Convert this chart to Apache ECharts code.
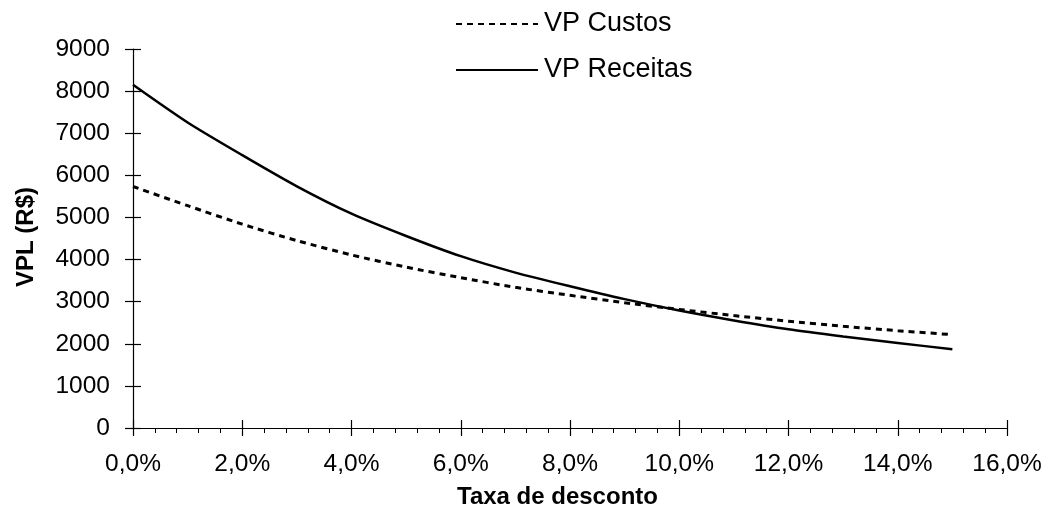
<!DOCTYPE html>
<html>
<head>
<meta charset="utf-8">
<script src="https://cdn.jsdelivr.net/npm/echarts@6/dist/echarts.min.js"></script>
<style>
html,body{margin:0;padding:0;background:#fff;}
#chart{width:1047px;height:524px;}
</style>
</head>
<body>
<div id="chart"></div>
<script>
// Data
const rates = [0, 0.01, 0.02, 0.03, 0.04, 0.05, 0.06, 0.07, 0.08, 0.09, 0.10, 0.11, 0.12, 0.13, 0.14, 0.15];
const vpCustos = [5735, 5280, 4840, 4450, 4110, 3820, 3570, 3340, 3150, 2975, 2815, 2670, 2535, 2415, 2310, 2217];
const vpReceitas = [8150, 7255, 6480, 5740, 5090, 4560, 4080, 3690, 3365, 3060, 2790, 2555, 2344, 2175, 2020, 1869];
const seriesNames = ['VP Custos', 'VP Receitas'];
const xTitle = 'Taxa de desconto';
const yTitle = 'VPL (R$)';

const FONT = 'Liberation Sans, Arial, sans-serif';
const toPairs = (xs, ys) => xs.map((x, i) => [x, ys[i]]);
const fmtPct = v => (v * 100).toFixed(1).replace('.', ',') + '%';

const chart = echarts.init(document.getElementById('chart'), null, {renderer: 'canvas'});
const TL = 8; // tick half-length
const tickStyle = {color: '#000', width: 1.2};
const hiddenAxis = {show: false};

const xBase = {type: 'value', min: 0, max: 0.16, interval: 0.02, splitLine: {show: false}};
const yBase = {type: 'value', min: 0, max: 9000, interval: 1000, splitLine: {show: false}};

chart.setOption({
  animation: false,
  backgroundColor: '#fff',
  textStyle: {fontFamily: FONT, color: '#000'},
  grid: [
    {left: 133, right: 40, top: 49, bottom: 96, containLabel: false},
    // helper grid: y ticks on inner side (same vertical scale, shifted right)
    {left: 133 + TL, right: 40, top: 49, bottom: 96, containLabel: false},
    // helper grid: x ticks on inner side (same horizontal scale, shifted up)
    {left: 133, right: 40, top: 49, bottom: 96 + TL, containLabel: false}
  ],
  legend: {
    orient: 'vertical',
    left: 455,
    top: 10,
    padding: 0,
    itemWidth: 82,
    itemHeight: 14,
    itemGap: 18,
    itemStyle: {opacity: 0},
    data: seriesNames,
    textStyle: {fontFamily: FONT, fontSize: 27, color: '#000', lineHeight: 28, padding: [0, 0, 0, 1]}
  },
  graphic: [{
    type: 'text', left: 457, top: 485,
    style: {text: xTitle, font: 'bold 24px ' + FONT, fill: '#000'}
  }, {
    type: 'text', x: 26.5, y: 237, rotation: Math.PI / 2,
    style: {text: yTitle, font: 'bold 24px ' + FONT, fill: '#000', align: 'center', verticalAlign: 'middle'}
  }],
  xAxis: [Object.assign({}, xBase, {
    gridIndex: 0, position: 'bottom',
    axisLine: {show: true, onZero: false, lineStyle: {color: '#000', width: 1.2}},
    axisTick: {show: true, inside: false, length: TL, lineStyle: tickStyle},
    minorTick: {show: true, splitNumber: 5, length: 5, lineStyle: {color: '#000', width: 1}},
    axisLabel: {formatter: fmtPct, fontFamily: FONT, fontSize: 24.5, color: '#000', margin: 24}
  }), Object.assign({}, xBase, {gridIndex: 1, show: false}),
  Object.assign({}, xBase, {
    gridIndex: 2, position: 'bottom',
    axisLine: {show: false, onZero: false},
    axisTick: {show: true, inside: false, length: TL, lineStyle: tickStyle},
    axisLabel: {show: false}
  })],
  yAxis: [Object.assign({}, yBase, {
    gridIndex: 0, position: 'left',
    axisLine: {show: true, onZero: false, lineStyle: {color: '#000', width: 1.2}},
    axisTick: {show: true, inside: false, length: TL, lineStyle: tickStyle},
    axisLabel: {formatter: v => String(v), fontFamily: FONT, fontSize: 24.5, color: '#000', margin: 23}
  }), Object.assign({}, yBase, {
    gridIndex: 1, position: 'left',
    axisLine: {show: false, onZero: false},
    axisTick: {show: true, inside: false, length: TL, lineStyle: tickStyle},
    axisLabel: {show: false}
  }), Object.assign({}, yBase, {gridIndex: 2, show: false})],
  series: [{
    name: seriesNames[0], type: 'line', xAxisIndex: 0, yAxisIndex: 0,
    data: toPairs(rates, vpCustos), symbol: 'none', smooth: 0.25,
    lineStyle: {color: '#000', width: 3, type: [6, 5]},
    itemStyle: {color: '#000'}
  }, {
    name: seriesNames[1], type: 'line', xAxisIndex: 0, yAxisIndex: 0,
    data: toPairs(rates, vpReceitas), symbol: 'none', smooth: 0.25,
    lineStyle: {color: '#000', width: 2.5, type: 'solid'},
    itemStyle: {color: '#000'}
  }, {
    name: 'helperY', type: 'line', xAxisIndex: 1, yAxisIndex: 1,
    data: toPairs(rates, vpReceitas), symbol: 'none', silent: true,
    lineStyle: {opacity: 0}, itemStyle: {opacity: 0}
  }, {
    name: 'helperX', type: 'line', xAxisIndex: 2, yAxisIndex: 2,
    data: toPairs(rates, vpReceitas), symbol: 'none', silent: true,
    lineStyle: {opacity: 0}, itemStyle: {opacity: 0}
  }]
});
</script>
</body>
</html>
